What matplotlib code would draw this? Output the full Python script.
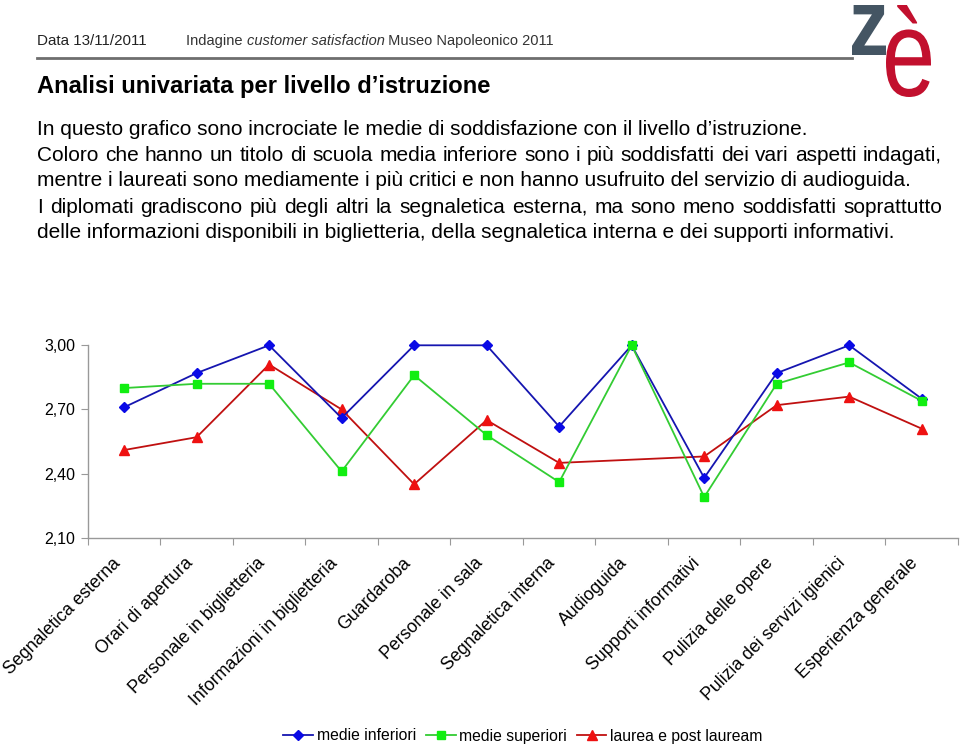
import matplotlib
matplotlib.use("Agg")
import matplotlib.pyplot as plt
import numpy as np
from matplotlib.lines import Line2D
from matplotlib.textpath import TextPath
from matplotlib.patches import PathPatch
from matplotlib.font_manager import FontProperties
from matplotlib.transforms import Affine2D, ScaledTranslation

plt.rcParams['font.family'] = ['Liberation Sans', 'DejaVu Sans']

categories = ["Segnaletica esterna", "Orari di apertura", "Personale in biglietteria",
              "Informazioni in biglietteria", "Guardaroba", "Personale in sala",
              "Segnaletica interna", "Audioguida", "Supporti informativi",
              "Pulizia delle opere", "Pulizia dei servizi igienici", "Esperienza generale"]
medie_inferiori = [2.71, 2.87, 3.00, 2.66, 3.00, 3.00, 2.62, 3.00, 2.38, 2.87, 3.00, 2.75]
medie_superiori = [2.80, 2.82, 2.82, 2.41, 2.86, 2.58, 2.36, 3.00, 2.29, 2.82, 2.92, 2.74]
laurea = [2.51, 2.57, 2.91, 2.70, 2.35, 2.65, 2.45, np.nan, 2.48, 2.72, 2.76, 2.61]
series_names = ["medie inferiori", "medie superiori", "laurea e post lauream"]
yticks = [2.10, 2.40, 2.70, 3.00]

W, H = 960, 746
fig = plt.figure(figsize=(W/100, H/100), dpi=100)

def fx(x): return x / W
def fy(y): return 1 - y / H

renderer = fig.canvas.get_renderer()

# header
fig.text(fx(37), fy(45), "Data 13/11/2011", fontsize=10.9, color="#222222", va="baseline")
hdr = [("Indagine ", "normal"), ("customer satisfaction", "italic"), (" Museo Napoleonico 2011", "normal")]
xpos = 186
for s, st in hdr:
    t = fig.text(fx(xpos), fy(45), s, fontsize=10.5, style=st, color="#333333", va="baseline")
    xpos += t.get_window_extent(renderer).width
fig.add_artist(Line2D([fx(37), fx(852)], [fy(58), fy(58)], color="#6e6e6e", lw=2))

# logo (glyph outlines fitted into boxes, in pixel coordinates)
def glyph(ch, weight, box, color):
    tp = TextPath((0, 0), ch, size=100, prop=FontProperties(family="Liberation Sans", weight=weight))
    ext = tp.get_extents()
    x0, y0, x1, y1 = box
    sx = (x1 - x0) / ext.width
    sy = (y1 - y0) / ext.height
    tr = Affine2D().translate(-ext.x0, -ext.y0).scale(sx, sy).translate(x0, H - y1)
    p = PathPatch(tr.transform_path(tp), facecolor=color, edgecolor="none", transform=None)
    fig.add_artist(p)

glyph("z", "bold", (852, 5, 886, 55), "#445563")
glyph("è", "normal", (886, 5, 931, 97), "#c2102e")

# title
fig.text(fx(37), fy(93), "Analisi univariata per livello d\u2019istruzione", fontsize=17.1,
         fontweight="bold", color="black", va="baseline")

# body text
lines = [
    ("In questo grafico sono incrociate le medie di soddisfazione con il livello d\u2019istruzione.", False),
    ("Coloro che hanno un titolo di scuola media inferiore sono i più soddisfatti dei vari aspetti indagati,", True),
    ("mentre i laureati sono mediamente i più critici e non hanno usufruito del servizio di audioguida.", False),
    ("I diplomati gradiscono più degli altri la segnaletica esterna, ma sono meno soddisfatti soprattutto", True),
    ("delle informazioni disponibili in biglietteria, della segnaletica interna e dei supporti informativi.", False),
]
base_y = [135, 161, 186, 213, 238]
bfs = 15.0
left, right = 37, 942
for (txt, just), yy in zip(lines, base_y):
    if not just:
        fig.text(fx(left), fy(yy), txt, fontsize=bfs, color="black", va="baseline")
    else:
        words = txt.split(" ")
        widths, arts = [], []
        for w_ in words:
            t = fig.text(0, 0, w_, fontsize=bfs, color="black", va="baseline")
            widths.append(t.get_window_extent(renderer).width)
            arts.append(t)
        gap = (right - left - sum(widths)) / (len(words) - 1)
        x = left
        for t, wd in zip(arts, widths):
            t.set_position((fx(x), fy(yy)))
            x += wd + gap

# chart
ax = fig.add_axes([fx(87.8), fy(537.7), fx(958) - fx(87.8), fy(345.3) - fy(537.7)])
x = np.arange(len(categories))
ax.plot(x, medie_inferiori, color="#1515b0", lw=1.3, marker="D", ms=5.5,
        markerfacecolor="#0a0ae6", markeredgecolor="#0a0ae6", label=series_names[0], clip_on=False, zorder=3)
ax.plot(x, medie_superiori, color="#33cc33", lw=1.3, marker="s", ms=6,
        markerfacecolor="#11ee11", markeredgecolor="#11ee11", label=series_names[1], clip_on=False, zorder=4)
la = np.array(laurea)
m = ~np.isnan(la)
ax.plot(x[m], la[m], color="#c01010", lw=1.3, marker="^", ms=7,
        markerfacecolor="#ee1111", markeredgecolor="#ee1111", label=series_names[2], clip_on=False, zorder=2)

ax.set_xlim(-0.5, len(categories) - 0.5)
ax.set_ylim(2.10, 3.00)
ax.set_yticks(yticks)
ax.set_yticklabels([f"{v:.2f}".replace(".", ",") for v in yticks], fontsize=11.5)
ax.set_xticks(np.arange(-0.5, len(categories)))
ax.set_xticklabels([])
off = ScaledTranslation(-6.5/100, -23/100, fig.dpi_scale_trans)
for xi, lab in zip(x, categories):
    ax.text(xi, 2.10, lab, rotation=45, ha="right", va="center", rotation_mode="anchor",
            fontsize=12.8, transform=ax.transData + off)
ax.tick_params(axis="x", which="major", length=5, color="#999999", direction="out")
ax.tick_params(axis="y", length=5, color="#999999", pad=4)
for s in ["top", "right"]:
    ax.spines[s].set_visible(False)
for s in ["left", "bottom"]:
    ax.spines[s].set_color("#999999")
    ax.spines[s].set_linewidth(1)

fig.legend(loc="center", bbox_to_anchor=(fx(523), fy(736)), ncol=3, frameon=False,
           fontsize=11.3, handlelength=1.9, handletextpad=0.25, columnspacing=0.6,
           borderaxespad=0)

fig.savefig("out.png", dpi=100)
